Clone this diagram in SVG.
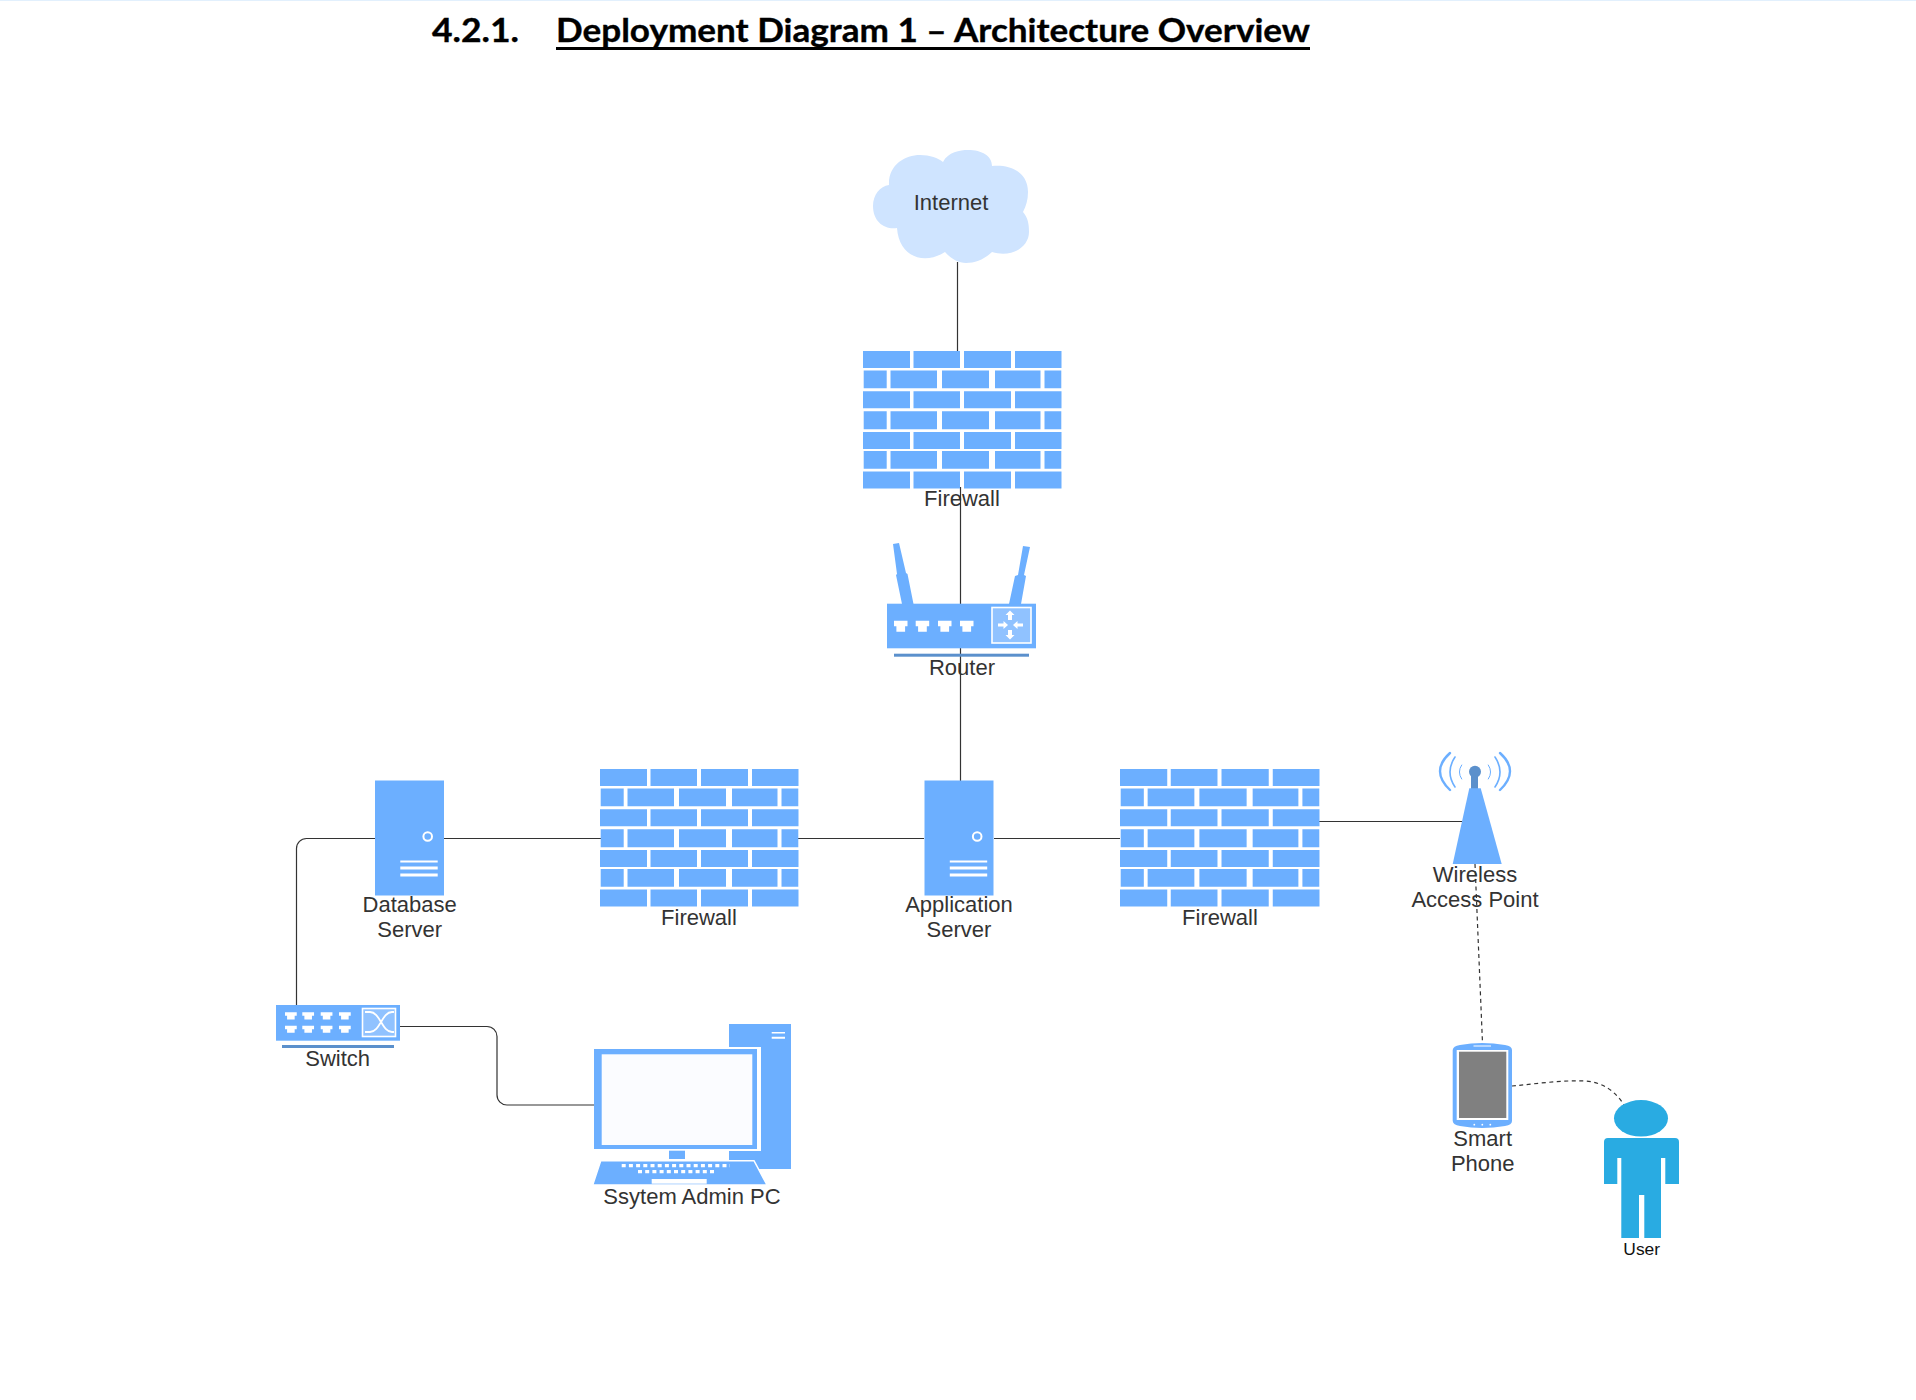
<svg xmlns="http://www.w3.org/2000/svg" width="1916" height="1400" viewBox="0 0 1916 1400">
<style>
.b{fill:#6cafff}
.w{fill:#fff}
.bar{fill:#5b90cc}
.box{fill:#90c2ff;stroke:#fff;stroke-width:1.6}
.l{font-family:"Liberation Sans",Arial,sans-serif;font-size:22px;fill:#333;text-anchor:middle}
.conn{fill:none;stroke:#333;stroke-width:1.2}
.dash{stroke-dasharray:4 3.500}
.arc{fill:none;stroke:#6cafff;stroke-linecap:round}
</style>
<defs>
<g id="bricks" class="b">
<path d="M0 0h47v17H0zM50.500 0h46.500v17H50.500zM101 0h47v17h-47zM152 0h46.500v17H152zM0 40.300h47v17H0zM50.500 40.300h46.500v17H50.500zM101 40.300h47v17h-47zM152 40.300h46.500v17H152zM0 81h47v17H0zM50.500 81h46.500v17H50.500zM101 81h47v17h-47zM152 81h46.500v17H152zM0 120.500h47v17H0zM50.500 120.500h46.500v17H50.500zM101 120.500h47v17h-47zM152 120.500h46.500v17H152z"/>
<path d="M.7 19.500h23v17.700H.7zM27.500 19.500h46.500v17.700H27.500zM79 19.500h47v17.700H79zM132 19.500h45.500v17.700H132zM181.500 19.500h16.800v17.700H181.500zM.7 60.300h23v18H.7zM27.500 60.300h46.500v18H27.500zM79 60.300h47v18H79zM132 60.300h45.500v18H132zM181.500 60.300h16.800v18H181.500zM.7 100h23v17.700H.7zM27.500 100h46.500v17.700H27.500zM79 100h47v17.700H79zM132 100h45.500v17.700H132zM181.500 100h16.800v17.700H181.500z"/>
</g>
<g id="server">
<rect class="b" width="69" height="115"/>
<circle cx="52.700" cy="56" r="4.300" fill="none" stroke="#fff" stroke-width="2"/>
<path class="w" d="M25.300 80h37.400v2H25.300zM25.300 86h37.400v3H25.300zM25.300 93h37.400v3H25.300z"/>
</g>
<path id="port" class="w" d="M0 0h13.500v5.500h-2.400v5.500h-8.700v-5.500H0z"/>
</defs>

<rect width="1916" height="1" fill="#e2f0fd"/>

<g id="title" font-family="Lato,'Liberation Sans',sans-serif" font-weight="700" font-size="33" fill="#000" stroke="#000" stroke-width=".35">
<text x="432" y="42" textLength="87" lengthAdjust="spacingAndGlyphs">4.2.1.</text>
<text x="556" y="42" textLength="754" lengthAdjust="spacingAndGlyphs">Deployment Diagram 1 – Architecture Overview</text>
<rect x="556" y="47" width="754" height="3" stroke="none"/>
</g>

<g id="connectors">
<path class="conn" d="M957.500 262V351"/>
<path class="conn" d="M960.500 487V781"/>
<path class="conn" d="M444 838.500H601M798 838.500H924M994 838.500H1120"/>
<path class="conn" d="M1319 821.500H1462"/>
<path class="conn" d="M375 838.500H306.500a10 10 0 0 0-10 10V1005"/>
<path class="conn" d="M400 1026.500H487a10 10 0 0 1 10 10V1095a10 10 0 0 0 10 10H594"/>
<path class="conn dash" d="M1475 864L1482.500 1043"/>
<path class="conn dash" d="M1512 1086C1535 1084 1560 1080 1585 1081C1603 1082 1616 1092 1624 1105"/>
</g>

<g id="internet">
<path fill="#cfe4ff" d="M889 185C888 165 905 155 920 155C930 155 938 158 943 162C948 152 960 150 968 150C982 150 992 156 992 166C1010 164 1028 172 1028 192C1028 200 1026 206 1023 212C1028 218 1029 224 1029 232C1029 247 1012 258 992 252C985 259 975 263 966 263C958 263 950 258 945 252C925 265 899 258 897 228C885 230 873 222 873 206C873 195 880 186 889 185Z"/>
<text class="l" x="951" y="210">Internet</text>
</g>

<g id="firewall-top">
<use href="#bricks" x="863" y="351"/>
<text class="l" x="962" y="506">Firewall</text>
</g>

<g id="router">
<path class="b" d="M893 544L899 543L906 573L907.500 574L913.500 604H902L896 575L897 574zM1023 546L1030 547L1024 575L1026 576L1021 604H1009L1015 576L1018 575z"/>
<rect class="b" x="887" y="603.700" width="149" height="44.600"/>
<rect class="bar" x="894" y="653.700" width="135" height="3"/>
<use href="#port" x="894" y="620.700"/><use href="#port" x="915.700" y="620.700"/><use href="#port" x="938" y="620.700"/><use href="#port" x="960" y="620.700"/>
<rect class="box" x="992" y="607.500" width="39" height="35.500"/>
<path class="w" d="M1010 610.500l4.500 4.500h-2.500v5h-4v-5h-2.500zM1010 639.500l4.500-4.500h-2.500v-5h-4v5h-2.500zM1008 625l-4.500-4v2.500h-5.500v3h5.500v2.500zM1013 625l4.500-4v2.500h5.500v3h-5.500v2.500z"/>
<text class="l" x="962" y="675">Router</text>
</g>

<g id="database-server">
<use href="#server" x="375" y="780.500"/>
<text class="l" x="409.700" y="912">Database</text>
<text class="l" x="409.700" y="937">Server</text>
</g>

<g id="firewall-left">
<use href="#bricks" x="600" y="769"/>
<text class="l" x="699" y="925">Firewall</text>
</g>

<g id="application-server">
<use href="#server" x="924.500" y="780.500"/>
<text class="l" x="959" y="912">Application</text>
<text class="l" x="959" y="937">Server</text>
</g>

<g id="firewall-right">
<use href="#bricks" transform="translate(1120 769) scale(1.005 1)"/>
<text class="l" x="1220" y="925">Firewall</text>
</g>

<g id="access-point">
<path class="arc" stroke-width="2.400" d="M1450 753Q1430 771 1450 790M1500 753Q1520 771 1500 790"/>
<path class="arc" stroke-width="1.600" d="M1455 757Q1445 772 1455 787M1495 757Q1505 772 1495 787"/>
<path class="arc" stroke-width="1" d="M1461.700 765Q1457 772 1461.700 779M1488.300 765Q1493 772 1488.300 779"/>
<rect class="bar" x="1471" y="774" width="7" height="15"/>
<circle class="bar" cx="1475" cy="771.700" r="6"/>
<path class="b" d="M1469.300 788.300H1480.700L1501.700 864H1452.700z"/>
<text class="l" x="1475" y="882">Wireless</text>
<text class="l" x="1475" y="907">Access Point</text>
</g>

<g id="switch">
<rect class="b" x="276" y="1005" width="124" height="35.700"/>
<rect class="bar" x="282" y="1045" width="112" height="3"/>
<g id="switch-ports">
<use href="#port" transform="translate(285 1012.300) scale(.87 .65)"/><use href="#port" transform="translate(302.300 1012.300) scale(.87 .65)"/><use href="#port" transform="translate(320.700 1012.300) scale(.87 .65)"/><use href="#port" transform="translate(339 1012.300) scale(.87 .65)"/>
<use href="#port" transform="translate(285 1025.700) scale(.87 .65)"/><use href="#port" transform="translate(302.300 1025.700) scale(.87 .65)"/><use href="#port" transform="translate(320.700 1025.700) scale(.87 .65)"/><use href="#port" transform="translate(339 1025.700) scale(.87 .65)"/>
</g>
<rect class="box" x="362.500" y="1008.500" width="33" height="28"/>
<path fill="none" stroke="#fff" stroke-width="1.800" d="M365 1012H370C380 1012 382 1032 392 1032H394M365 1032H370C380 1032 382 1012 392 1012H394"/>
<text class="l" x="337.700" y="1066">Switch</text>
</g>

<g id="admin-pc">
<rect class="b" x="729" y="1024" width="62" height="145"/>
<path class="w" d="M771.700 1032h13.300v1.500h-13.300zM771.700 1036.700h13.300v2h-13.300z"/>
<rect class="w" x="594" y="1047" width="167" height="104"/>
<rect class="b" x="594" y="1049" width="163" height="100"/>
<rect fill="#fbfcff" x="601.700" y="1054.300" width="150.600" height="90.700"/>
<rect class="b" x="669" y="1150.700" width="16" height="8.300"/>
<path class="b" stroke="#fff" stroke-width="1.500" d="M600.700 1160.700H754L767 1185H592.700z"/>
<path fill="none" stroke="#fff" stroke-width="3.200" stroke-dasharray="4 3.200" d="M621.700 1165.700H730M638 1171.700H715"/>
<rect class="w" x="651.700" y="1179" width="55" height="4.700"/>
<text class="l" x="692" y="1204">Ssytem Admin PC</text>
</g>

<g id="smart-phone">
<path class="b" d="M1452.700 1050Q1453 1046 1460 1045Q1482 1041 1505 1045Q1512 1046 1512 1050V1121Q1512 1125 1505 1126Q1482 1130 1460 1126Q1453 1125 1452.700 1121Z"/>
<rect class="w" x="1456.700" y="1050" width="51.600" height="70"/>
<rect fill="#808080" x="1459" y="1051.700" width="47.300" height="66.300"/>
<rect class="w" x="1473.500" y="1045.500" width="17.500" height="1"/>
<circle class="w" cx="1474.300" cy="1124.700" r=".9"/><circle class="w" cx="1482.300" cy="1124.700" r=".9"/><circle class="w" cx="1490.300" cy="1124.700" r=".9"/>
<text class="l" x="1482.700" y="1146">Smart</text>
<text class="l" x="1482.700" y="1171">Phone</text>
</g>

<g id="user">
<ellipse cx="1641" cy="1118.300" rx="27" ry="18.300" fill="#29abe2"/>
<path fill="#29abe2" d="M1608 1138H1675Q1679 1138 1679 1142V1184H1665.300V1158H1661V1238H1644.300V1195H1639V1238H1621.300V1158H1617.300V1184H1604V1142Q1604 1138 1608 1138Z"/>
<text x="1641.700" y="1255" font-family="'Liberation Sans',Arial,sans-serif" font-size="17.400" fill="#111" text-anchor="middle">User</text>
</g>
</svg>
